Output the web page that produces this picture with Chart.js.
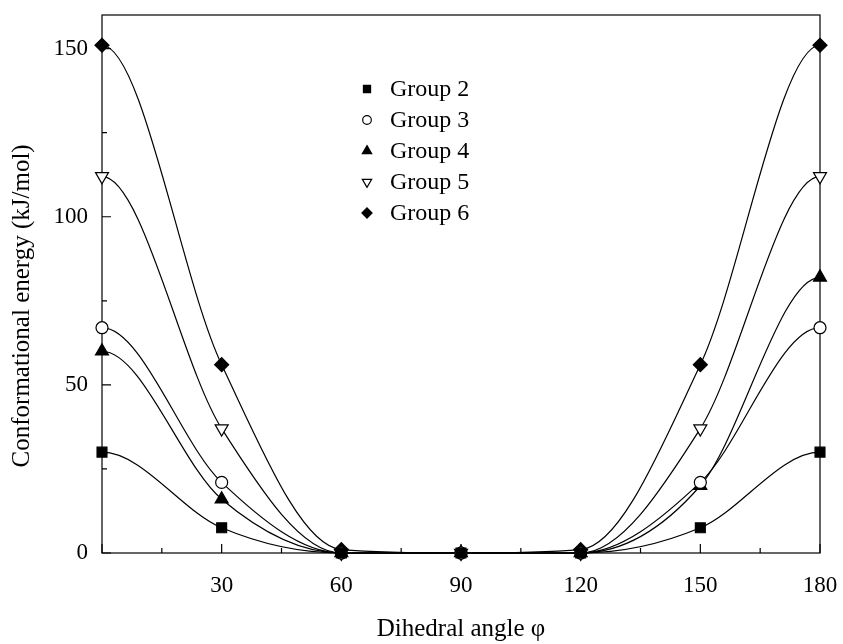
<!DOCTYPE html>
<html>
<head>
<meta charset="utf-8">
<script src="https://cdn.jsdelivr.net/npm/chart.js@4/dist/chart.umd.min.js"></script>
<style>
  html, body { margin: 0; padding: 0; background: #fff; }
  .box { width: 843px; height: 644px; position: relative; }
</style>
</head>
<body>
<div class="box"><canvas class="jsEnergyChart"></canvas></div>
<script>
'use strict';

// dihedral angle (deg) and conformational energy (kJ/mol)
const angles = [0, 30, 60, 90, 120, 150, 180];
const group2 = [30, 7.5, 0, 0, 0, 7.5, 30];
const group3 = [67, 21, 0, 0, 0, 21, 67];
const group4 = [60, 16, 0, 0, 0, 20, 82];
const group5 = [112, 37, 0, 0, 0, 37, 112];
const group6 = [151, 56, 1, 0, 1, 56, 151];

const groupNames = ['Group 2', 'Group 3', 'Group 4', 'Group 5', 'Group 6'];

const xMajor = [0, 30, 60, 90, 120, 150, 180];
const xMinor = [15, 45, 75, 105, 135, 165];
const yMajor = [0, 50, 100, 150];
const yMinor = [25, 75, 125];

const FONT = 'Liberation Serif';

// marker look per group
const markers = [
  {pointStyle: 'rect', radius: 7, rotation: 0, fill: '#000'},
  {pointStyle: 'circle', radius: 6, rotation: 0, fill: '#fff'},
  {pointStyle: 'triangle', radius: 7.5, rotation: 0, fill: '#000'},
  {pointStyle: 'triangle', radius: 7.5, rotation: 180, fill: '#fff'},
  {pointStyle: 'rectRot', radius: 7, rotation: 0, fill: '#000'}
];

function toPoints(values) {
  return angles.map((a, i) => ({x: a, y: values[i]}));
}

// the curves start and end with a flat tangent at 0 and 180 deg
const flatEnds = {
  id: 'flatEnds',
  beforeDatasetDraw(chart, args) {
    let meta = args.meta,
      line = meta.dataset;
    if (!line || !line.points || !line.points.length) return;
    line.updateControlPoints(chart.chartArea, meta.iScale.axis);
    let pts = line.points,
      first = pts[0],
      last = pts[pts.length - 1];
    first.cp2y = first.y;
    last.cp1y = last.y;
  }
};

// frame round the plot and inward tick marks
const frameTicks = {
  id: 'frameTicks',
  beforeDatasetsDraw(chart) {
    let ctx = chart.ctx,
      a = chart.chartArea,
      x = chart.scales.x,
      y = chart.scales.y;
    ctx.save();
    ctx.strokeStyle = '#000';
    ctx.lineWidth = 1.2;
    ctx.strokeRect(a.left, a.top, a.right - a.left, a.bottom - a.top);
    ctx.beginPath();
    xMajor.forEach(v => {
      let px = x.getPixelForValue(v);
      ctx.moveTo(px, a.bottom); ctx.lineTo(px, a.bottom - 9);
    });
    xMinor.forEach(v => {
      let px = x.getPixelForValue(v);
      ctx.moveTo(px, a.bottom); ctx.lineTo(px, a.bottom - 5);
    });
    yMajor.forEach(v => {
      let py = y.getPixelForValue(v);
      ctx.moveTo(a.left, py); ctx.lineTo(a.left + 9, py);
    });
    yMinor.forEach(v => {
      let py = y.getPixelForValue(v);
      ctx.moveTo(a.left, py); ctx.lineTo(a.left + 5, py);
    });
    ctx.stroke();
    ctx.restore();
  }
};

// legend sits inside the plot area
const insideLegend = {
  id: 'insideLegend',
  afterDraw(chart) {
    let ctx = chart.ctx;
    ctx.save();
    ctx.font = '24px "' + FONT + '"';
    ctx.textBaseline = 'middle';
    ctx.textAlign = 'left';
    groupNames.forEach((name, i) => {
      let m = markers[i],
        lx = 367,
        ly = 89 + i * 31;
      ctx.fillStyle = m.fill;
      ctx.strokeStyle = '#000';
      ctx.lineWidth = 1.2;
      Chart.helpers.drawPoint(ctx, {
        pointStyle: m.pointStyle,
        radius: m.radius * 0.72,
        rotation: m.rotation,
        borderWidth: 1.2
      }, lx, ly);
      ctx.fillStyle = '#000';
      ctx.fillText(name, 390, ly + 1);
    });
    ctx.restore();
  }
};

function _buildEnergyChart() {
  let series = [group2, group3, group4, group5, group6],
    ctx = document.querySelector('.jsEnergyChart');

  let datasets = series.map((values, i) => ({
    label: groupNames[i],
    data: toPoints(values),
    showLine: true,
    borderColor: '#000',
    borderWidth: 1.2,
    cubicInterpolationMode: 'monotone',
    pointStyle: markers[i].pointStyle,
    pointRadius: markers[i].radius,
    pointRotation: markers[i].rotation,
    pointBackgroundColor: markers[i].fill,
    pointBorderColor: '#000',
    pointBorderWidth: 1.2,
    fill: false,
    clip: false
  }));

  new Chart(ctx, {
    type: 'line',
    data: {datasets: datasets},
    options: {
      responsive: true,
      maintainAspectRatio: false,
      animation: false,
      events: [],
      layout: {padding: {top: 15, right: 23, left: 0, bottom: 0}},
      plugins: {
        legend: {display: false},
        tooltip: {enabled: false}
      },
      scales: {
        x: {
          type: 'linear',
          min: 0,
          max: 180,
          afterBuildTicks: scale => { scale.ticks = xMajor.map(v => ({value: v})); },
          afterFit: scale => {
            scale.height = 91;
            scale.paddingLeft = 0;
            scale.paddingRight = 0;
          },
          grid: {display: false, drawTicks: false},
          border: {display: false},
          ticks: {
            padding: 19,
            color: '#000',
            font: {family: FONT, size: 23},
            maxRotation: 0,
            callback: v => (v === 0 ? '' : String(v))
          },
          title: {
            display: true,
            text: 'Dihedral angle φ',
            color: '#000',
            font: {family: FONT, size: 25},
            padding: {top: 0, bottom: 0}
          }
        },
        y: {
          type: 'linear',
          min: 0,
          max: 160,
          afterBuildTicks: scale => { scale.ticks = yMajor.map(v => ({value: v})); },
          afterFit: scale => {
            scale.width = 102;
            scale.paddingTop = 0;
            scale.paddingBottom = 0;
          },
          grid: {display: false, drawTicks: false},
          border: {display: false},
          ticks: {
            padding: 14,
            color: '#000',
            font: {family: FONT, size: 23}
          },
          title: {
            display: true,
            text: 'Conformational energy (kJ/mol)\u2002\u2002\u2002 ',
            color: '#000',
            font: {family: FONT, size: 25},
            padding: {top: 7, bottom: 0}
          }
        }
      }
    },
    plugins: [flatEnds, frameTicks, insideLegend]
  });
}

_buildEnergyChart();
</script>
</body>
</html>
